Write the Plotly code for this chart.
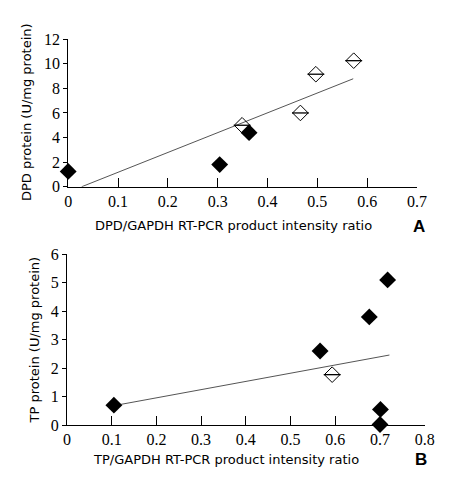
import plotly.graph_objects as go

W, H = 450, 482

# Panel A data
a_filled_x = [0.0, 0.304, 0.363]
a_filled_y = [1.25, 1.8, 4.4]
a_open_x = [0.349, 0.466, 0.497, 0.573]
a_open_y = [5.0, 6.0, 9.15, 10.25]
a_fit_x = [0.027, 0.572]
a_fit_y = [0.0, 8.78]

# Panel B data
b_filled_x = [0.105, 0.566, 0.676, 0.717, 0.701, 0.700]
b_filled_y = [0.7, 2.6, 3.8, 5.1, 0.55, 0.02]
b_open_x = [0.593]
b_open_y = [1.77]
b_fit_x = [0.115, 0.721]
b_fit_y = [0.71, 2.46]

a_xticks = [0, 0.1, 0.2, 0.3, 0.4, 0.5, 0.6, 0.7]
a_yticks = [0, 2, 4, 6, 8, 10, 12]
b_xticks = [0, 0.1, 0.2, 0.3, 0.4, 0.5, 0.6, 0.7, 0.8]
b_yticks = [0, 1, 2, 3, 4, 5, 6]

fig = go.Figure()

def add_panel(xa, ya, fx, fy, ox, oy, lx, ly):
    fig.add_trace(go.Scatter(x=lx, y=ly, mode="lines", xaxis=xa, yaxis=ya,
                             line=dict(color="#555555", width=1), cliponaxis=False,
                             showlegend=False, hoverinfo="skip"))
    fig.add_trace(go.Scatter(x=ox, y=oy, mode="markers", xaxis=xa, yaxis=ya,
                             marker=dict(symbol="diamond-open", size=12, color="black",
                                         line=dict(width=1, color="black")),
                             cliponaxis=False, showlegend=False))
    fig.add_trace(go.Scatter(x=ox, y=oy, mode="markers", xaxis=xa, yaxis=ya,
                             marker=dict(symbol="line-ew", size=12, color="black",
                                         line=dict(width=1.3, color="black")),
                             cliponaxis=False, showlegend=False))
    fig.add_trace(go.Scatter(x=fx, y=fy, mode="markers", xaxis=xa, yaxis=ya,
                             marker=dict(symbol="diamond", size=13, color="black",
                                         line=dict(width=0)),
                             cliponaxis=False, showlegend=False))

add_panel("x", "y", a_filled_x, a_filled_y, a_open_x, a_open_y, a_fit_x, a_fit_y)
add_panel("x2", "y2", b_filled_x, b_filled_y, b_open_x, b_open_y, b_fit_x, b_fit_y)

tickfont = dict(family="Liberation Serif, Times New Roman, serif", size=16, color="black")

def xax(dom, anchor, rng, ticks):
    return dict(domain=dom, anchor=anchor, range=rng, tickvals=ticks,
                ticktext=[("0" if t == 0 else f"{t:g}") for t in ticks],
                showgrid=False, zeroline=False, showline=True, linecolor="black",
                linewidth=1, ticks="inside", ticklen=9, tickcolor="black",
                tickfont=tickfont, fixedrange=True)

def yax(dom, anchor, rng, ticks):
    return dict(domain=dom, anchor=anchor, range=rng, tickvals=ticks,
                showgrid=False, zeroline=False, showline=True, linecolor="black",
                linewidth=1, ticks="outside", ticklen=4, tickcolor="black",
                tickfont=tickfont, fixedrange=True)

fig.update_layout(
    width=W, height=H,
    margin=dict(l=0, r=0, t=0, b=0),
    paper_bgcolor="white", plot_bgcolor="white",
    font=dict(family="Liberation Serif, serif", size=16, color="black"),
    xaxis=xax([58 / W, 418 / W], "y", [0, 0.7], a_xticks),
    yaxis=yax([1 - 177 / H, 1 - 24 / H], "x", [0, 12], a_yticks),
    xaxis2=xax([56.7 / W, 426 / W], "y2", [0, 0.8], b_xticks),
    yaxis2=yax([1 - 424 / H, 1 - 247 / H], "x2", [0, 6], b_yticks),
)

sans = dict(family="DejaVu Sans", size=13, color="black")
ann = [
    dict(text="DPD protein (U/mg protein)", x=15 / W, y=1 - 100 / H, textangle=-90),
    dict(text="DPD/GAPDH RT-PCR product intensity ratio", x=229 / W, y=1 - 217 / H),
    dict(text="TP protein (U/mg protein)", x=23 / W, y=1 - 336 / H, textangle=-90),
    dict(text="TP/GAPDH RT-PCR product intensity ratio", x=221 / W, y=1 - 460 / H),
]
for a in ann:
    fig.add_annotation(xref="paper", yref="paper", xanchor="center", yanchor="middle",
                       showarrow=False, font=sans, **a)
for lab, x, y in [("A", 420, 218), ("B", 422, 460)]:
    fig.add_annotation(text=f"<b>{lab}</b>", xref="paper", yref="paper", x=x / W, y=1 - y / H,
                       xanchor="center", yanchor="middle", showarrow=False,
                       font=dict(family="Liberation Sans", size=17, color="black"))

fig.write_html("out.html")
